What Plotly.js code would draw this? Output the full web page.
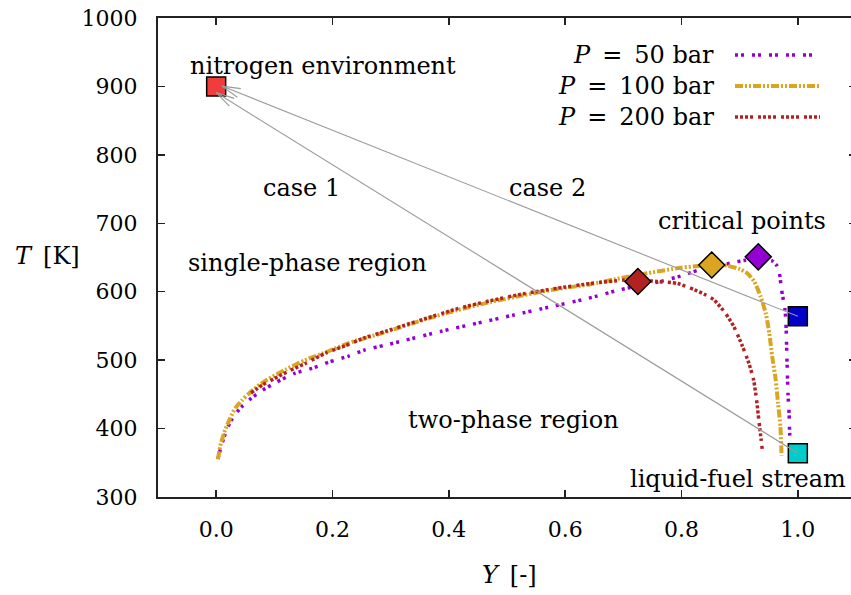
<!DOCTYPE html>
<html>
<head>
<meta charset="utf-8">
<script src="https://cdn.plot.ly/plotly-3.0.1.min.js"></script>
<style>
html,body{margin:0;padding:0;overflow:hidden;background:#fff;}
#chart{width:856px;height:595px;}
</style>
</head>
<body>
<div id="chart"></div>
<script>
// ---- Data ----
const seriesNames = ["P = 50 bar", "P = 100 bar", "P = 200 bar"];

const y50 = [0.003, 0.008, 0.013, 0.020, 0.030, 0.044, 0.060, 0.076, 0.104, 0.136, 0.165, 0.193, 0.228, 0.256, 0.291, 0.320, 0.386, 0.449, 0.512, 0.575, 0.638, 0.695, 0.764, 0.799, 0.827, 0.860, 0.890, 0.910, 0.932, 0.956, 0.964, 0.968, 0.972, 0.978, 0.980, 0.981, 0.982, 0.983, 0.985, 0.986, 0.988];
const t50 = [356, 372, 386, 402, 418, 432, 444, 454, 468, 481, 488, 497, 506, 515, 522, 528, 542, 554, 566, 578, 590, 603, 615, 623, 631, 637, 643, 646, 649, 645, 638, 629, 603, 573, 544, 510, 481, 452, 422, 393, 368];

const y100 = [0.003, 0.008, 0.0155, 0.024, 0.033, 0.044, 0.056, 0.070, 0.087, 0.119, 0.153, 0.193, 0.228, 0.268, 0.302, 0.357, 0.414, 0.472, 0.529, 0.586, 0.644, 0.684, 0.741, 0.799, 0.833, 0.852, 0.879, 0.900, 0.913, 0.925, 0.936, 0.945, 0.951, 0.956, 0.962, 0.966, 0.970, 0.972];
const t100 = [355, 378, 398, 415, 430, 441, 451, 461, 471, 486, 500, 513, 525, 535, 544, 559, 573, 585, 595, 604, 611, 618, 627, 635, 638, 640, 638, 633, 627, 615, 593, 568, 539, 505, 471, 437, 403, 360];

const y200 = [0.060, 0.080, 0.100, 0.125, 0.153, 0.190, 0.222, 0.256, 0.291, 0.357, 0.414, 0.472, 0.529, 0.586, 0.644, 0.701, 0.725, 0.758, 0.793, 0.822, 0.840, 0.856, 0.876, 0.890, 0.905, 0.916, 0.924, 0.929, 0.933, 0.937, 0.939];
const t200 = [452, 464, 473, 484, 495, 511, 521, 533, 542, 560, 575, 587, 597, 605, 612, 617, 617, 615, 612, 603, 596, 588, 568, 549, 520, 495, 471, 442, 412, 383, 368];

// critical points
const critY = [0.932, 0.852, 0.725];
const critT = [651, 639, 615];
const critColors = ["#9400d3", "#daa520", "#b22222"];

// states
const stateY = [0.0, 1.0, 1.0];
const stateT = [900, 564, 364];
const stateColors = ["#f03c3c", "#0000c8", "#00cccc"];

// arrows
const arrowHeadY = [0.010, 0.000];
const arrowHeadT = [900.5, 891];
const arrowTailY = [1.0, 1.0];
const arrowTailT = [564, 364];

// labels
const labelText = ["nitrogen environment", "case 1", "case 2", "critical points", "single-phase region", "two-phase region", "liquid-fuel stream"];
const labelY = [0.184, 0.146, 0.570, 0.904, 0.157, 0.511, 0.897];
const labelT = [930, 751.6, 751.6, 703.3, 642, 412.5, 326.3];

const xTickVals = [0.0, 0.2, 0.4, 0.6, 0.8, 1.0];
const yTickVals = [300, 400, 500, 600, 700, 800, 900, 1000];
const xRange = [-0.1, 1.1];
const yRange = [300, 1000];

// ---- Styles ----
const FONT = "DejaVu Serif, Liberation Serif, serif";
const lineColors = ["#9400d3", "#daa520", "#b22222"];
const lineDash = ["3px,3px,3px,8px", "8px,2px,2px,2px,2px,2px", "3px,2px,3px,2px,3px,2px,3px,5px"];
const lineWidth = [3.5, 4, 3.5];

const W = 856, H = 595, ML = 158, MR = 0, MT = 18, MB = 98;
const pw = W - ML - MR, ph = H - MT - MB;
const px2paperX = p => (p - ML) / pw;
const px2paperY = p => (H - MB - p) / ph;
const toPx = (x, t) => [ML + (x - xRange[0]) / (xRange[1] - xRange[0]) * pw,
                        MT + (yRange[1] - t) / (yRange[1] - yRange[0]) * ph];
const toData = (px, py) => [xRange[0] + (px - ML) / pw * (xRange[1] - xRange[0]),
                            yRange[1] - (py - MT) / ph * (yRange[1] - yRange[0])];

const curvesX = [y50, y100, y200];
const curvesT = [t50, t100, t200];

const traces = [];
for (let i = 0; i < 3; i++) {
  traces.push({
    x: curvesX[i], y: curvesT[i], type: "scatter", mode: "lines",
    name: seriesNames[i], showlegend: false,
    line: {color: lineColors[i], width: lineWidth[i], dash: lineDash[i], shape: "spline", smoothing: 0.6}
  });
}
traces.push({
  x: critY, y: critT, type: "scatter", mode: "markers", showlegend: false,
  marker: {symbol: "diamond", size: 20, color: critColors, line: {color: "#000", width: 1.5}}
});
traces.push({
  x: stateY, y: stateT, type: "scatter", mode: "markers", showlegend: false,
  marker: {symbol: "square", size: 19, color: stateColors, line: {color: "#000", width: 1.5}}
});

const annotations = [];
const shapes = [];
for (let i = 0; i < labelText.length; i++) {
  annotations.push({x: labelY[i], y: labelT[i], xref: "x", yref: "y", text: labelText[i],
    showarrow: false, xanchor: "center", yanchor: "middle", font: {family: FONT, size: 24, color: "#000"}});
}
// arrows with open V heads
const ARROW_COL = "#9a9a9a", HEAD_LEN = 19, HEAD_ANG = 14 * Math.PI / 180;
for (let i = 0; i < arrowHeadY.length; i++) {
  shapes.push({type: "line", xref: "x", yref: "y",
    x0: arrowTailY[i], y0: arrowTailT[i], x1: arrowHeadY[i], y1: arrowHeadT[i],
    line: {color: ARROW_COL, width: 1.1}});
  const h = toPx(arrowHeadY[i], arrowHeadT[i]);
  const t = toPx(arrowTailY[i], arrowTailT[i]);
  let dx = t[0] - h[0], dy = t[1] - h[1];
  const n = Math.hypot(dx, dy); dx /= n; dy /= n;
  for (const s of [1, -1]) {
    const a = s * HEAD_ANG;
    const rx = dx * Math.cos(a) - dy * Math.sin(a);
    const ry = dx * Math.sin(a) + dy * Math.cos(a);
    const b = toData(h[0] + HEAD_LEN * rx, h[1] + HEAD_LEN * ry);
    shapes.push({type: "line", xref: "x", yref: "y",
      x0: arrowHeadY[i], y0: arrowHeadT[i], x1: b[0], y1: b[1],
      line: {color: ARROW_COL, width: 1.1}});
  }
}

const SP = "\u2002";
annotations.push({x: px2paperX(47), y: px2paperY(256), xref: "paper", yref: "paper",
  text: "<i>T</i>" + SP + "[K]", showarrow: false, xanchor: "center", yanchor: "middle",
  font: {family: FONT, size: 24, color: "#000"}});
annotations.push({x: px2paperX(509), y: px2paperY(575), xref: "paper", yref: "paper",
  text: "<i>Y</i>" + SP + "[-]", showarrow: false, xanchor: "center", yanchor: "middle",
  font: {family: FONT, size: 24, color: "#000"}});

// manual legend (text right-aligned, sample line on the right)
const legRowsPx = [55, 86, 117];
const legendLabels = ["<i>P</i>" + SP + "=" + SP + "50 bar", "<i>P</i>" + SP + "=" + SP + "100 bar", "<i>P</i>" + SP + "=" + SP + "200 bar"];
for (let i = 0; i < 3; i++) {
  annotations.push({x: px2paperX(716), y: px2paperY(legRowsPx[i]), xref: "paper", yref: "paper",
    text: legendLabels[i], showarrow: false, xanchor: "right", yanchor: "middle",
    font: {family: FONT, size: 24, color: "#000"}});
  shapes.push({type: "line", xref: "paper", yref: "paper",
    x0: px2paperX(735), x1: px2paperX(820), y0: px2paperY(legRowsPx[i]), y1: px2paperY(legRowsPx[i]),
    line: {color: lineColors[i], width: lineWidth[i], dash: lineDash[i]}});
}

const axisCommon = {
  showline: true, linecolor: "#222", linewidth: 2, mirror: "ticks",
  ticks: "inside", ticklen: 7, tickwidth: 1.5, tickcolor: "#222",
  showgrid: false, zeroline: false,
  tickfont: {family: FONT, size: 22, color: "#000"}
};

const layout = {
  width: W, height: H,
  margin: {l: ML, r: MR, t: MT, b: MB, pad: 0},
  paper_bgcolor: "#fff", plot_bgcolor: "#fff",
  showlegend: false,
  xaxis: Object.assign({}, axisCommon, {range: xRange, tickvals: xTickVals, tickformat: ".1f", ticklabelstandoff: 12}),
  yaxis: Object.assign({}, axisCommon, {range: yRange, tickvals: yTickVals, ticklabelstandoff: 14}),
  annotations: annotations,
  shapes: shapes
};

Plotly.newPlot("chart", traces, layout, {staticPlot: true, displayModeBar: false});
</script>
</body>
</html>
